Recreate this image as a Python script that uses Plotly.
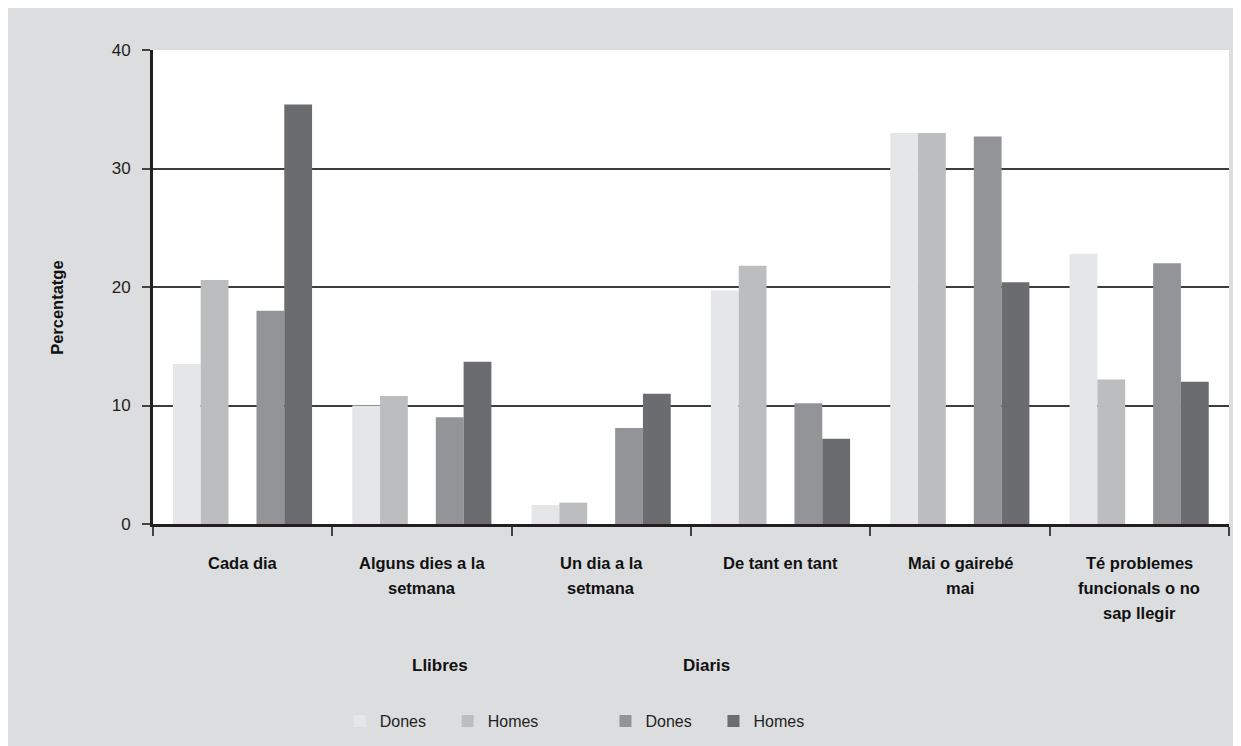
import plotly.graph_objects as go

categories = ["Cada dia", "Alguns dies a la setmana", "Un dia a la setmana",
              "De tant en tant", "Mai o gairebé mai",
              "Té problemes funcionals o no sap llegir"]
category_lines = [
    ["Cada dia"],
    ["Alguns dies a la", "setmana"],
    ["Un dia a la", "setmana"],
    ["De tant en tant"],
    ["Mai o gairebé", "mai"],
    ["Té problemes", "funcionals o no", "sap llegir"],
]

llibres_dones = [13.5, 10.0, 1.6, 19.7, 33.0, 22.8]
llibres_homes = [20.6, 10.8, 1.8, 21.8, 33.0, 12.2]
diaris_dones = [18.0, 9.0, 8.1, 10.2, 32.7, 22.0]
diaris_homes = [35.4, 13.7, 11.0, 7.2, 20.4, 12.0]

y_ticks = [0, 10, 20, 30, 40]

BG = "#dcdddf"
INK = "#231f20"
FONT = "Liberation Sans, Arial, sans-serif"

BAR_W = 0.155
series = [
    ("Dones", llibres_dones, "#e5e6e8", -0.389, "legend"),
    ("Homes", llibres_homes, "#bcbdbf", -0.234, "legend"),
    ("Dones", diaris_dones, "#939497", 0.077, "legend2"),
    ("Homes", diaris_homes, "#6b6c70", 0.232, "legend2"),
]

fig = go.Figure()
for name, values, color, offset, legend in series:
    fig.add_trace(go.Bar(
        x=categories, y=values, name=name,
        marker=dict(color=color, line=dict(width=0)),
        width=BAR_W, offset=offset, legend=legend,
    ))

legend_style = dict(orientation="h", xanchor="left", y=-0.4156, yanchor="middle",
                    bgcolor="rgba(0,0,0,0)", entrywidth=63, entrywidthmode="pixels",
                    font=dict(size=16, color=INK), traceorder="normal")
fig.update_layout(
    width=1241, height=746,
    barmode="overlay",
    paper_bgcolor=BG, plot_bgcolor="#ffffff",
    margin=dict(l=145, r=20, t=42, b=230),
    font=dict(family=FONT, color=INK),
    showlegend=True,
    legend=dict(x=0.1735, **legend_style),
    legend2=dict(x=0.4205, **legend_style),
)

fig.update_xaxes(
    type="category", range=[-0.5, len(categories) - 0.5],
    showline=True, linewidth=3, linecolor=INK,
    ticks="outside", tickson="boundaries", ticklen=9, tickwidth=1.5, tickcolor="#444",
    showticklabels=False, showgrid=False,
)
fig.update_yaxes(
    range=[0, 40], tickvals=y_ticks,
    showline=True, linewidth=3, linecolor=INK,
    ticks="outside", ticklen=8, tickwidth=1.5, tickcolor="#444",
    tickfont=dict(size=17, color=INK), ticklabelstandoff=8,
    showgrid=True, gridcolor="#3d3d3d", gridwidth=1.6, zeroline=False,
)

# category labels, one annotation per line for wider line spacing
for cat, lines in zip(categories, category_lines):
    for i, line in enumerate(lines):
        fig.add_annotation(
            x=cat, xref="x", y=0, yref="paper", yanchor="middle",
            yshift=-39 - 25 * i, text=f"<b>{line}</b>", showarrow=False,
            font=dict(size=16.5, color="#111"),
        )

# group titles for the legend
for label, xpos in [("Llibres", 0.2666), ("Diaris", 0.5145)]:
    fig.add_annotation(
        x=xpos, xref="paper", xanchor="center", y=0, yref="paper", yanchor="middle",
        yshift=-141, text=f"<b>{label}</b>", showarrow=False,
        font=dict(size=17, color="#111"),
    )

fig.add_annotation(
    x=0, xref="paper", xanchor="center", xshift=-96, y=0.456, yref="paper",
    text="<b>Percentatge</b>", textangle=-90, showarrow=False,
    font=dict(size=16.5, color="#111"),
)

fig.write_html("out.html")
